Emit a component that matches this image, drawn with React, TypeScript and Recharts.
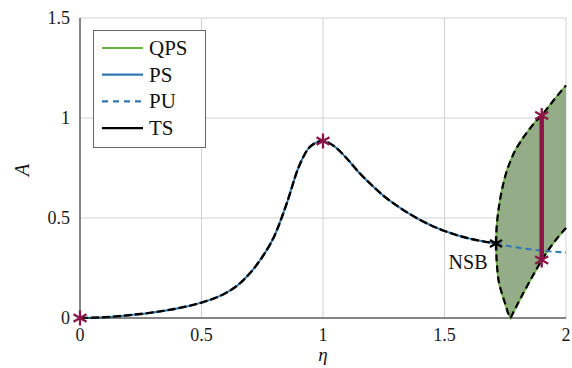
import React from 'react';
import { ComposedChart, Line, Area, Scatter, XAxis, YAxis, CartesianGrid, Legend, ReferenceDot } from 'recharts';

// ---- data ----
const etaMain = [0, 0.1, 0.2, 0.3, 0.4, 0.5, 0.6, 0.65, 0.7, 0.75, 0.8, 0.85, 0.9, 0.95, 1.0, 1.05, 1.1, 1.15, 1.2, 1.25, 1.3, 1.35, 1.4, 1.5, 1.6, 1.712];
const ampMain = [0, 0.004, 0.014, 0.028, 0.048, 0.077, 0.125, 0.165, 0.225, 0.305, 0.41, 0.57, 0.755, 0.86, 0.885, 0.855, 0.795, 0.725, 0.665, 0.61, 0.565, 0.525, 0.49, 0.435, 0.398, 0.373];

const etaPU = [1.712, 1.8, 1.9, 2.0];
const ampPU = [0.373, 0.352, 0.337, 0.327];

const etaQPS = [1.712, 1.714, 1.717, 1.721, 1.726, 1.732, 1.74, 1.75, 1.76, 1.772, 1.785, 1.8, 1.825, 1.85, 1.875, 1.9, 1.925, 1.95, 1.975, 2.0];
const ampQPSUpper = [0.373, 0.444, 0.488, 0.531, 0.573, 0.615, 0.661, 0.71, 0.75, 0.786, 0.824, 0.857, 0.904, 0.945, 0.983, 1.012, 1.051, 1.09, 1.127, 1.163];
const ampQPSLower = [0.373, 0.3, 0.245, 0.2, 0.165, 0.14, 0.107, 0.07, 0.03, 0.0, 0.032, 0.068, 0.126, 0.182, 0.236, 0.29, 0.336, 0.378, 0.416, 0.45];

const etaMarkers = [0, 1.0, 1.9, 1.9];
const ampMarkers = [0, 0.885, 0.29, 1.012];

const etaSegment = [1.9, 1.9];
const ampSegment = [0.29, 1.012];

const etaNSB = 1.712;
const ampNSB = 0.373;

const xTicks = [0, 0.5, 1, 1.5, 2];
const yTicks = [0, 0.5, 1, 1.5];

const legendNames = ['QPS', 'PS', 'PU', 'TS'];
const legendColors = ['#6db33f', '#2f78b8', '#2f78b8', '#000000'];
const legendDashed = [false, false, true, false];

// ---- tables built from arrays ----
const mainData = etaMain.map((x, i) => ({ x, y: ampMain[i] }));
const puData = etaPU.map((x, i) => ({ x, y: ampPU[i] }));
const qpsData = etaQPS.map((x, i) => ({ x, lo: ampQPSLower[i], hi: ampQPSUpper[i] }));
const markerData = etaMarkers.map((x, i) => ({ x, y: ampMarkers[i] }));
const segData = etaSegment.map((x, i) => ({ x, y: ampSegment[i] }));

const FONT = "'Liberation Serif', Tinos, 'Times New Roman', Times, 'DejaVu Serif', 'Noto Serif', serif";
const RED = '#8c1446';
const GREEN = '#6db33f';
const BLUE = '#2f78b8';
const FILL = '#94ac88';

const Asterisk = ({ cx, cy, color, r = 7.5 }: any) => {
  if (cx == null || cy == null) return null;
  const angles = [90, 30, -30];
  return (
    <g stroke={color} strokeWidth={2.3} strokeLinecap="butt">
      {angles.map((a) => {
        const rad = (a * Math.PI) / 180;
        const dx = r * Math.cos(rad);
        const dy = r * Math.sin(rad);
        return <line key={a} x1={cx - dx} y1={cy - dy} x2={cx + dx} y2={cy + dy} />;
      })}
    </g>
  );
};

const LegendBox = () => (
  <svg width={113} height={118} style={{ display: 'block' }}>
    <rect x={0.5} y={0.5} width={112} height={117} fill="#fff" stroke="#666" strokeWidth={1} />
    {legendNames.map((n, i) => {
      const cy = 18 + i * 26.7;
      return (
        <g key={n}>
          <line
            x1={9}
            x2={50}
            y1={cy}
            y2={cy}
            stroke={legendColors[i]}
            strokeWidth={2.2}
            strokeDasharray={legendDashed[i] ? '6 5' : undefined}
          />
          <text x={56} y={cy} dominantBaseline="central" style={{ fontFamily: FONT }} fontSize={21} fill="#111">
            {n}
          </text>
        </g>
      );
    })}
  </svg>
);

export default function App() {
  return (
    <div style={{ position: 'absolute', left: 0, top: 0, fontFamily: FONT }}>
      <ComposedChart width={572} height={368} margin={{ top: 18, right: 6, bottom: 0, left: 0 }} style={{ fontFamily: FONT }}>
        <CartesianGrid stroke="#d2d2d2" strokeWidth={1} />
        <XAxis
          type="number"
          dataKey="x"
          domain={[0, 2]}
          ticks={xTicks}
          height={50}
          tickSize={0}
          tickMargin={10}
          stroke="#222"
          tick={{ fill: '#1a1a1a', fontSize: 18, fontFamily: FONT, style: { fontFamily: FONT } }}
          label={{
            content: (p: any) => {
              const vb = p.viewBox || { x: 80, y: 318, width: 486, height: 50 };
              return (
                <text
                  x={vb.x + vb.width / 2}
                  y={vb.y + 36}
                  textAnchor="middle"
                  dominantBaseline="central"
                  style={{ fontFamily: FONT }}
                  fontStyle="italic"
                  fontSize={19}
                  fill="#111"
                >
                  η
                </text>
              );
            },
          }}
        />
        <YAxis
          type="number"
          domain={[0, 1.5]}
          ticks={yTicks}
          width={80}
          tickSize={0}
          tickMargin={10}
          stroke="#222"
          tick={{ fill: '#1a1a1a', fontSize: 18, fontFamily: FONT, style: { fontFamily: FONT } }}
          label={{
            content: (p: any) => {
              const vb = p.viewBox || { x: 0, y: 18, width: 80, height: 300 };
              const cx = vb.x + 22;
              const cy = vb.y + vb.height / 2 + 2;
              return (
                <text
                  x={cx}
                  y={cy}
                  transform={`rotate(-90 ${cx} ${cy})`}
                  textAnchor="middle"
                  dominantBaseline="central"
                  style={{ fontFamily: FONT }}
                  fontStyle="italic"
                  fontSize={20}
                  fill="#111"
                >
                  A
                </text>
              );
            },
          }}
        />
        <Legend
          layout="vertical"
          align="center"
          verticalAlign="middle"
          wrapperStyle={{ position: 'absolute', left: 93, top: 30, width: 113, height: 118 }}
          content={() => <LegendBox />}
        />
        <Area
          data={qpsData}
          dataKey={(d: any) => [d.lo, d.hi]}
          type="linear"
          fill={FILL}
          fillOpacity={1}
          stroke="none"
          isAnimationActive={false}
          legendType="none"
        />
        <Line data={qpsData} dataKey="hi" type="linear" stroke={GREEN} strokeWidth={2} dot={false} activeDot={false} isAnimationActive={false} />
        <Line data={qpsData} dataKey="lo" type="linear" stroke={GREEN} strokeWidth={2} dot={false} activeDot={false} isAnimationActive={false} />
        <Line data={qpsData} dataKey="hi" type="linear" stroke="#000" strokeWidth={2.2} strokeDasharray="7 4" dot={false} activeDot={false} isAnimationActive={false} />
        <Line data={qpsData} dataKey="lo" type="linear" stroke="#000" strokeWidth={2.2} strokeDasharray="7 4" dot={false} activeDot={false} isAnimationActive={false} />
        <Line data={mainData} dataKey="y" type="monotone" stroke={BLUE} strokeWidth={2} dot={false} activeDot={false} isAnimationActive={false} />
        <Line data={mainData} dataKey="y" type="monotone" stroke="#000" strokeWidth={2.4} strokeDasharray="8 3" dot={false} activeDot={false} isAnimationActive={false} />
        <Line data={puData} dataKey="y" type="monotone" stroke={BLUE} strokeWidth={2} strokeDasharray="6 4" dot={false} activeDot={false} isAnimationActive={false} />
        <Line data={segData} dataKey="y" type="linear" stroke={RED} strokeWidth={4.5} dot={false} activeDot={false} isAnimationActive={false} />
        <Scatter
          data={markerData}
          dataKey="y"
          isAnimationActive={false}
          shape={(p: any) => <Asterisk cx={p.cx} cy={p.cy} color={RED} />}
        />
        <ReferenceDot
          x={etaNSB}
          y={ampNSB}
          r={7}
          shape={(p: any) => <Asterisk cx={p.cx} cy={p.cy} color="#000" r={7} />}
          label={{
            content: (p: any) => {
              const vb = p.viewBox;
              if (!vb) return null;
              const cx = vb.x + vb.width / 2;
              const cy = vb.y + vb.height / 2;
              return (
                <text
                  x={cx - 28}
                  y={cy + 19}
                  textAnchor="middle"
                  dominantBaseline="central"
                  style={{ fontFamily: FONT }}
                  fontSize={20}
                  fill="#111"
                >
                  NSB
                </text>
              );
            },
          }}
        />
      </ComposedChart>
    </div>
  );
}
